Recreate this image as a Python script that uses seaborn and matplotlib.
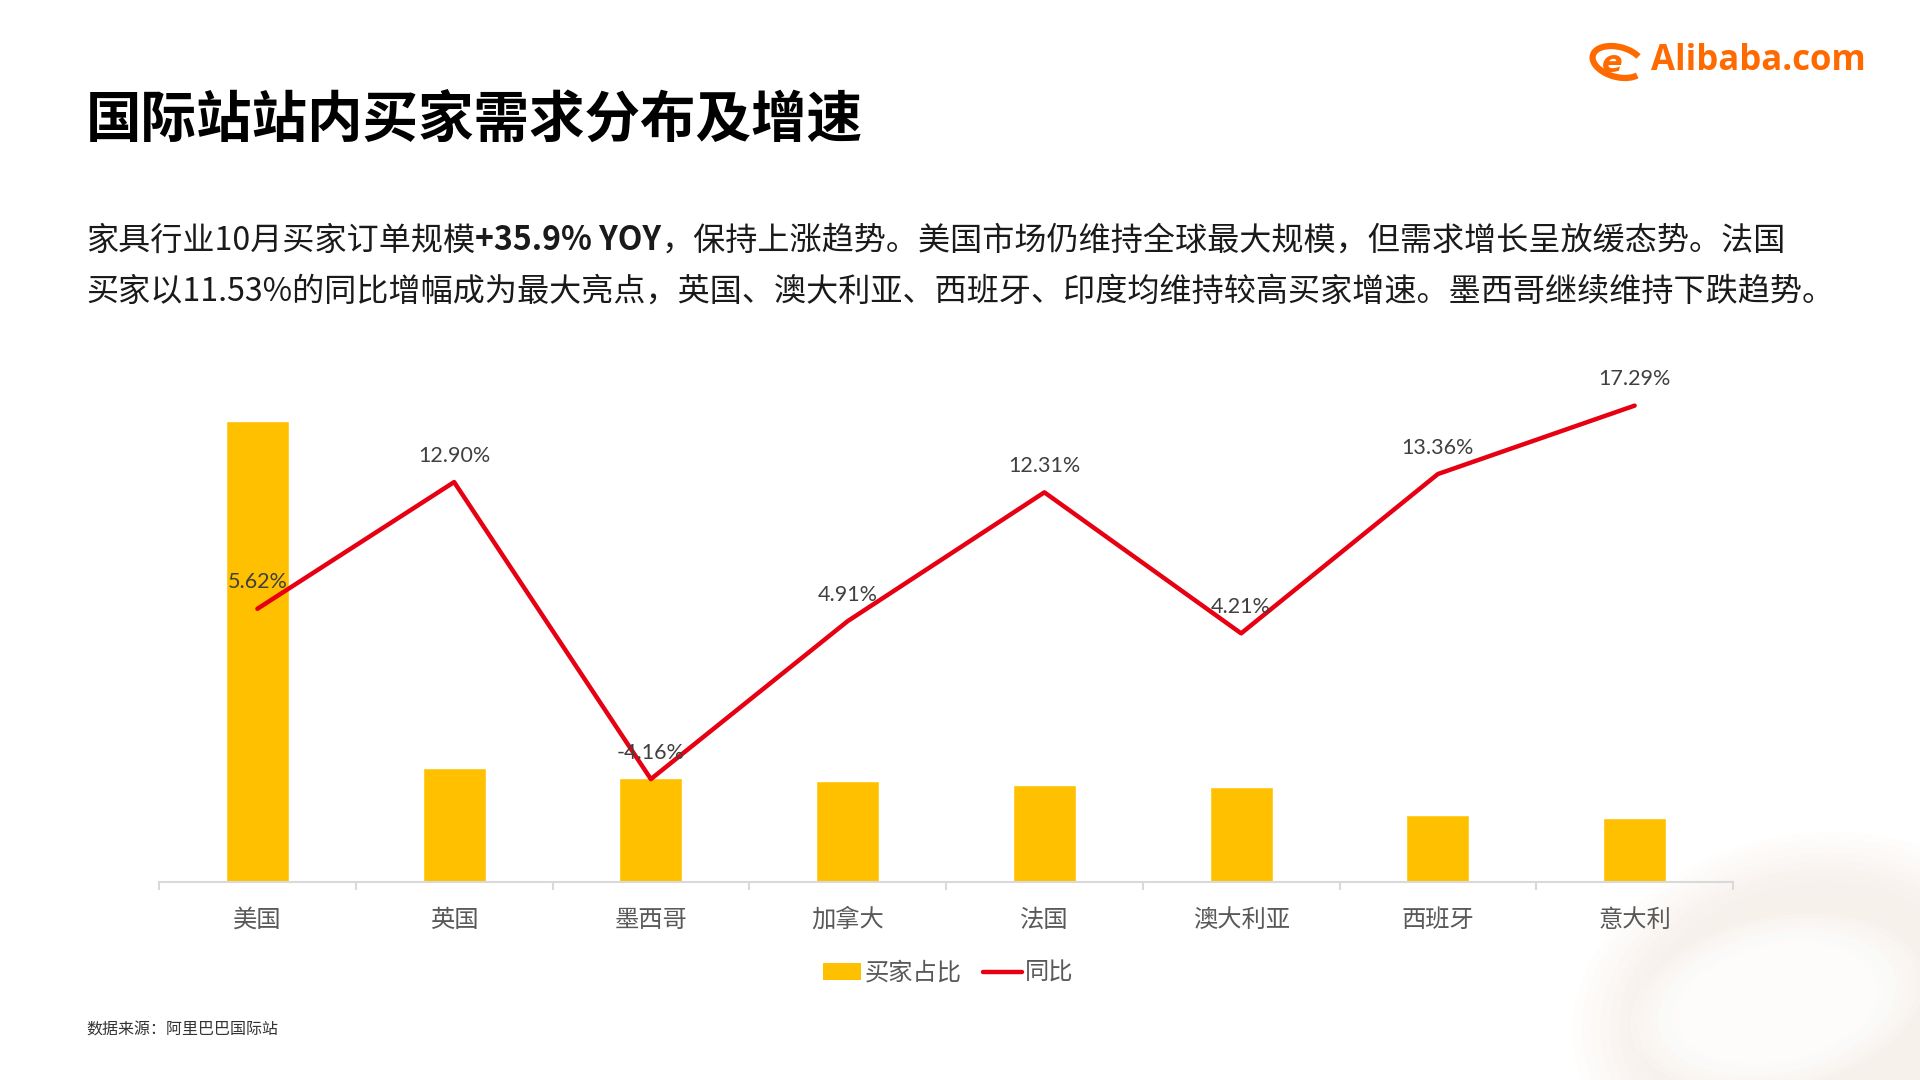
import numpy as np
import pandas as pd
import matplotlib
matplotlib.use("Agg")
import matplotlib.pyplot as plt
import seaborn as sns
from matplotlib.patches import Patch, Ellipse, Arc
from matplotlib.lines import Line2D

# ---------------- data ----------------
countries = ["美国", "英国", "墨西哥", "加拿大", "法国", "澳大利亚", "西班牙", "意大利"]
buyer_share = [36.0, 8.9, 8.1, 7.9, 7.6, 7.4, 5.2, 5.0]       # 买家占比 (relative)
yoy = [5.62, 12.90, -4.16, 4.91, 12.31, 4.21, 13.36, 17.29]    # 同比 (%)
legend_labels = ["买家占比", "同比"]

title = "国际站站内买家需求分布及增速"
sub_line1 = [("家具行业10月买家订单规模", "normal"), ("+35.9% YOY", "bold"),
             ("，保持上涨趋势。美国市场仍维持全球最大规模，但需求增长呈放缓态势。法国", "normal")]
sub_line2 = [("买家以11.53%的同比增幅成为最大亮点，英国、澳大利亚、西班牙、印度均维持较高买家增速。墨西哥继续维持下跌趋势。", "normal")]
source = "数据来源：阿里巴巴国际站"
logo = "Alibaba.com"

df = pd.DataFrame({"country": countries, "share": buyer_share, "yoy": yoy})

# ---------------- style ----------------
sns.set_theme(style="white")
plt.rcParams["font.family"] = ["Noto Sans CJK SC", "DejaVu Sans"]
plt.rcParams["axes.unicode_minus"] = False

W, H = 1920, 1080
fig = plt.figure(figsize=(W / 100, H / 100), dpi=100)
fig.patch.set_facecolor("white")

# background decoration (soft donut bottom-right)
bg = fig.add_axes([0, 0, 1, 1], zorder=-5)
bg.set_xlim(0, W)
bg.set_ylim(H, 0)
bg.axis("off")
for k in range(8):
    s = 1 - k * 0.04
    bg.add_patch(Ellipse((1805, 1010), 470 * s, 350 * s, angle=-12,
                         facecolor="#f7e8df", edgecolor="none", alpha=0.08))
for k in range(8):
    s = 1 + k * 0.07
    bg.add_patch(Ellipse((1777, 1003), 200 * s, 115 * s, angle=-12,
                         facecolor="white", edgecolor="none", alpha=0.4 if k < 4 else 0.18))

# ---------------- chart ----------------
ax_left, ax_right, ax_bottom, ax_top = 159, 1733, 882, 360
ax = fig.add_axes([ax_left / W, 1 - ax_bottom / H, (ax_right - ax_left) / W, (ax_bottom - ax_top) / H])
ax.patch.set_alpha(0)

bar_color = "#FFC000"
line_color = "#E60012"

sns.barplot(data=df, x="country", y="share", ax=ax, color=bar_color, width=0.32,
            saturation=1, errorbar=None, zorder=2)
ax.set_ylim(0, 40.76)
ax.set_xlim(-0.5, len(countries) - 0.5)

ax2 = ax.twinx()
sns.pointplot(data=df, x="country", y="yoy", ax=ax2, color=line_color, markers="",
              linewidth=3.2, errorbar=None)
ax2.set_ylim(-10.07, 19.91)
ax2.set_xlim(-0.5, len(countries) - 0.5)

for i, v in enumerate(yoy):
    ax2.annotate(f"{v:.2f}%", xy=(i, v), xytext=(0, 19), textcoords="offset points",
                 ha="center", va="center", fontsize=15.5, color="#404040",
                 family=["Lato", "DejaVu Sans"], zorder=5)

for a in (ax, ax2):
    for sp in ["top", "right", "left"]:
        a.spines[sp].set_visible(False)
    a.set_yticks([])
    a.set_ylabel("")
    a.set_xlabel("")
ax2.spines["bottom"].set_visible(False)
ax.spines["bottom"].set_color("#d9d9d9")
ax.spines["bottom"].set_linewidth(1.5)
ax.set_xticks(range(len(countries)))
ax.set_xticklabels(countries, fontsize=17.5, color="#595959")
ax.tick_params(axis="x", which="major", length=0, pad=18)
ax.set_xticks(np.arange(-0.5, len(countries), 1.0), minor=True)
ax.tick_params(axis="x", which="minor", length=6, width=1.5, color="#d9d9d9", bottom=True)
ax2.tick_params(axis="x", length=0)

# legend
handles = [Patch(facecolor=bar_color, edgecolor="none"),
           Line2D([0], [0], color=line_color, lw=3.2)]
fig.legend(handles, legend_labels, loc="center", bbox_to_anchor=(948 / W, 1 - 973 / H),
           ncol=2, frameon=False, fontsize=17.5, labelcolor="#595959",
           handlelength=1.6, handleheight=0.65, handletextpad=0.12, columnspacing=0.9)

# ---------------- texts ----------------
fig.text(86 / W, 1 - 121 / H, title, fontsize=40, fontweight="black", color="black",
         ha="left", va="center")

renderer = fig.canvas.get_renderer()


def put_runs(runs, x_px, y_px, size):
    x = x_px
    for txt, weight in runs:
        t = fig.text(x / W, 1 - y_px / H, txt, fontsize=size, fontweight=weight,
                     color="#1a1a1a", ha="left", va="center")
        bb = t.get_window_extent(renderer=renderer)
        x = bb.x1


put_runs(sub_line1, 86, 241, 23.1)
put_runs(sub_line2, 86, 292, 23.1)

fig.text(86 / W, 1 - 1030 / H, source, fontsize=11.5, color="#333333", ha="left", va="center")

# logo
fig.text(1651 / W, 1 - 61 / H, logo, fontsize=25, fontweight="bold", color="#FF6A00",
         family=["Open Sans", "DejaVu Sans"], ha="left", va="center")
bg.add_patch(Arc((1618, 62), 52, 30, angle=15, theta1=20, theta2=330,
                 color="#FF6A00", lw=4.5))
bg.text(1612, 64, "e", fontsize=22, fontweight="bold", style="italic", color="#FF6A00",
        ha="center", va="center", family=["DejaVu Sans"])

fig.savefig("out.png", dpi=100, facecolor="white")
